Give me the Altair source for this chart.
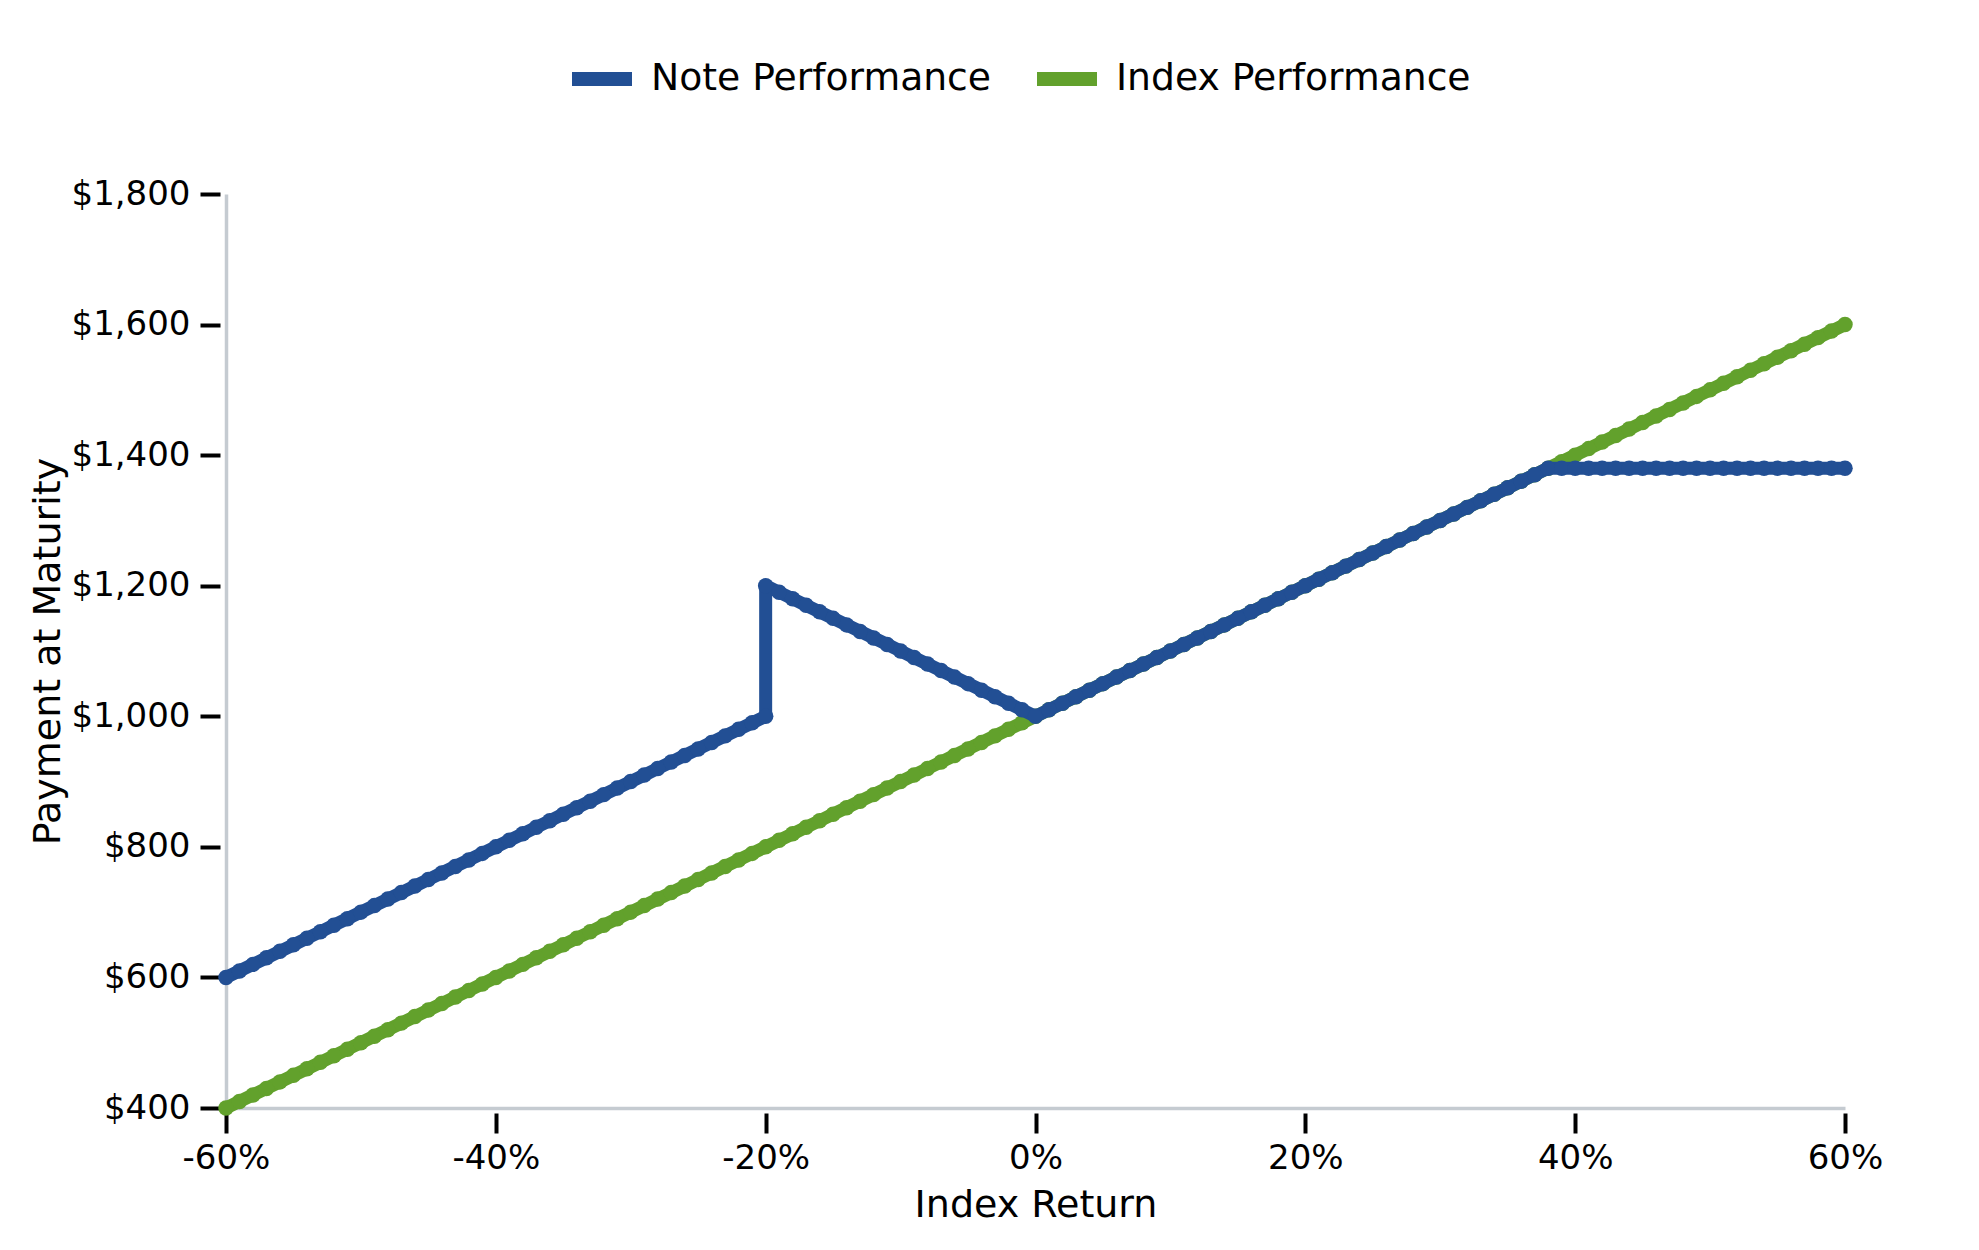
import altair as alt
import pandas as pd

SERIES = ["Note Performance", "Index Performance"]
COLORS = ["#224f94", "#62a12c"]

# Index return (%) and payment for the index
INDEX_RETURN_PCT = [
    -60, -59, -58, -57, -56, -55, -54, -53, -52, -51,
    -50, -49, -48, -47, -46, -45, -44, -43, -42, -41,
    -40, -39, -38, -37, -36, -35, -34, -33, -32, -31,
    -30, -29, -28, -27, -26, -25, -24, -23, -22, -21,
    -20, -19, -18, -17, -16, -15, -14, -13, -12, -11,
    -10, -9, -8, -7, -6, -5, -4, -3, -2, -1,
    0, 1, 2, 3, 4, 5, 6, 7, 8, 9,
    10, 11, 12, 13, 14, 15, 16, 17, 18, 19,
    20, 21, 22, 23, 24, 25, 26, 27, 28, 29,
    30, 31, 32, 33, 34, 35, 36, 37, 38, 39,
    40, 41, 42, 43, 44, 45, 46, 47, 48, 49,
    50, 51, 52, 53, 54, 55, 56, 57, 58, 59,
    60,
]
INDEX_VALUE = [
    400, 410, 420, 430, 440, 450, 460, 470, 480, 490,
    500, 510, 520, 530, 540, 550, 560, 570, 580, 590,
    600, 610, 620, 630, 640, 650, 660, 670, 680, 690,
    700, 710, 720, 730, 740, 750, 760, 770, 780, 790,
    800, 810, 820, 830, 840, 850, 860, 870, 880, 890,
    900, 910, 920, 930, 940, 950, 960, 970, 980, 990,
    1000, 1010, 1020, 1030, 1040, 1050, 1060, 1070, 1080, 1090,
    1100, 1110, 1120, 1130, 1140, 1150, 1160, 1170, 1180, 1190,
    1200, 1210, 1220, 1230, 1240, 1250, 1260, 1270, 1280, 1290,
    1300, 1310, 1320, 1330, 1340, 1350, 1360, 1370, 1380, 1390,
    1400, 1410, 1420, 1430, 1440, 1450, 1460, 1470, 1480, 1490,
    1500, 1510, 1520, 1530, 1540, 1550, 1560, 1570, 1580, 1590,
    1600,
]

# Note: the -20% point appears twice (vertical jump from $1,000 to $1,200)
NOTE_RETURN_PCT = [
    -60, -59, -58, -57, -56, -55, -54, -53, -52, -51,
    -50, -49, -48, -47, -46, -45, -44, -43, -42, -41,
    -40, -39, -38, -37, -36, -35, -34, -33, -32, -31,
    -30, -29, -28, -27, -26, -25, -24, -23, -22, -21,
    -20, -20,
    -19, -18, -17, -16, -15, -14, -13, -12, -11, -10,
    -9, -8, -7, -6, -5, -4, -3, -2, -1, 0,
    1, 2, 3, 4, 5, 6, 7, 8, 9, 10,
    11, 12, 13, 14, 15, 16, 17, 18, 19, 20,
    21, 22, 23, 24, 25, 26, 27, 28, 29, 30,
    31, 32, 33, 34, 35, 36, 37, 38,
    39, 40, 41, 42, 43, 44, 45, 46, 47, 48,
    49, 50, 51, 52, 53, 54, 55, 56, 57, 58,
    59, 60,
]
NOTE_VALUE = [
    600, 610, 620, 630, 640, 650, 660, 670, 680, 690,
    700, 710, 720, 730, 740, 750, 760, 770, 780, 790,
    800, 810, 820, 830, 840, 850, 860, 870, 880, 890,
    900, 910, 920, 930, 940, 950, 960, 970, 980, 990,
    1000, 1200,
    1190, 1180, 1170, 1160, 1150, 1140, 1130, 1120, 1110, 1100,
    1090, 1080, 1070, 1060, 1050, 1040, 1030, 1020, 1010, 1000,
    1010, 1020, 1030, 1040, 1050, 1060, 1070, 1080, 1090, 1100,
    1110, 1120, 1130, 1140, 1150, 1160, 1170, 1180, 1190, 1200,
    1210, 1220, 1230, 1240, 1250, 1260, 1270, 1280, 1290, 1300,
    1310, 1320, 1330, 1340, 1350, 1360, 1370, 1380,
    1380, 1380, 1380, 1380, 1380, 1380, 1380, 1380, 1380, 1380,
    1380, 1380, 1380, 1380, 1380, 1380, 1380, 1380, 1380, 1380,
    1380, 1380,
]

X_TICKS = [-60, -40, -20, 0, 20, 40, 60]
Y_TICKS = [400, 600, 800, 1000, 1200, 1400, 1600, 1800]

rows = []
for i, (r, v) in enumerate(zip(INDEX_RETURN_PCT, INDEX_VALUE)):
    rows.append({"ret": r, "value": v, "series": SERIES[1], "seq": i})
for i, (r, v) in enumerate(zip(NOTE_RETURN_PCT, NOTE_VALUE)):
    rows.append({"ret": r, "value": v, "series": SERIES[0], "seq": i})
df = pd.DataFrame(rows)

FONT = "DejaVu Sans"
AXIS_GREY = "#c5cbd1"

xscale = alt.Scale(domain=[-60, 60], nice=False, zero=False)
yscale = alt.Scale(domain=[400, 1800], nice=False, zero=False)

color = alt.Color(
    "series:N",
    scale=alt.Scale(domain=SERIES, range=COLORS),
    sort=SERIES,
    legend=alt.Legend(
        orient="none",
        legendX=339,
        legendY=-152,
        direction="horizontal",
        title=None,
        symbolType="stroke",
        symbolStrokeWidth=14,
        symbolSize=3600,
        labelFontSize=37.7,
        labelFont=FONT,
        labelColor="#000000",
        labelOffset=12,
        columnPadding=17,
        labelLimit=0,
        padding=0,
    ),
)

domain_x_axis = alt.Axis(
    orient="bottom", domain=True, domainColor=AXIS_GREY, domainWidth=3.5,
    ticks=False, labels=False, grid=False, title=None,
)
domain_y_axis = alt.Axis(
    orient="left", domain=True, domainColor=AXIS_GREY, domainWidth=3.5,
    ticks=False, labels=False, grid=False, title=None,
)

tick_x_axis = alt.Axis(
    orient="bottom", domain=False, grid=False, offset=5,
    values=X_TICKS, labelExpr="datum.value + '%'",
    ticks=True, tickSize=20, tickWidth=4, tickColor="#000000",
    labelFontSize=34, labelFont=FONT, labelColor="#000000", labelPadding=8,
    labelFlush=False, labelOverlap=False,
    title="Index Return", titleFontSize=38, titleFont=FONT,
    titleFontWeight="normal", titleColor="#000000", titlePadding=11,
)
tick_y_axis = alt.Axis(
    orient="left", domain=False, grid=False, offset=6,
    values=Y_TICKS, labelExpr="'$' + format(datum.value, ',')",
    ticks=True, tickSize=20, tickWidth=4, tickColor="#000000",
    labelFontSize=34, labelFont=FONT, labelColor="#000000", labelPadding=10,
    labelOverlap=False,
    title="Payment at Maturity", titleFontSize=38, titleFont=FONT,
    titleFontWeight="normal", titleColor="#000000", titlePadding=4,
)

line_mark = dict(strokeWidth=13, strokeCap="round", strokeJoin="round",
                 point=alt.OverlayMarkDef(filled=True, size=240, opacity=1))

index_layer = alt.Chart(df).transform_filter(
    alt.datum.series == SERIES[1]
).mark_line(**line_mark).encode(
    x=alt.X("ret:Q", scale=xscale, axis=domain_x_axis),
    y=alt.Y("value:Q", scale=yscale, axis=domain_y_axis),
    color=color,
    order=alt.Order("seq:Q"),
)

note_layer = alt.Chart(df).transform_filter(
    alt.datum.series == SERIES[0]
).mark_line(**line_mark).encode(
    x=alt.X("ret:Q", scale=xscale, axis=tick_x_axis),
    y=alt.Y("value:Q", scale=yscale, axis=tick_y_axis),
    color=color,
    order=alt.Order("seq:Q"),
)

chart = alt.layer(index_layer, note_layer).resolve_axis(
    x="independent", y="independent"
).properties(
    width=1619,
    height=914,
    background="white",
    autosize=alt.AutoSizeParams(type="none"),
    padding={"left": 218, "top": 186, "right": 60, "bottom": 120},
).configure(font=FONT).configure_view(strokeWidth=0, stroke="transparent")

chart.save("out.html", embed_options={"renderer": "svg", "actions": False})
